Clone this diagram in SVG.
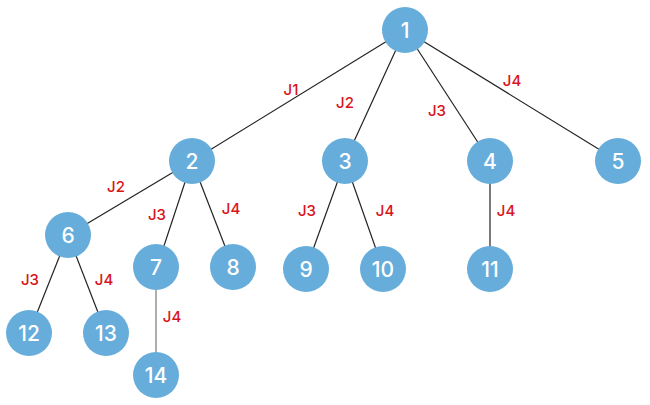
<svg xmlns="http://www.w3.org/2000/svg" width="650" height="405" viewBox="0 0 650 405">
<style>
.e{stroke:#222;stroke-width:1.2;fill:none}
.g{stroke:#777}
.n circle{fill:#66addb}
.n text{fill:#fff;font-family:Inter,"Open Sans","Liberation Sans",sans-serif;font-size:21px;font-weight:500;text-anchor:middle;dominant-baseline:central}
.l{fill:#d7141a;font-family:Inter,"Open Sans","Liberation Sans",sans-serif;font-size:15px;font-weight:500;text-anchor:middle;dominant-baseline:central}
</style>
<rect width="650" height="405" fill="#fff"/>
<g id="connectors">
<line class="e" x1="405" y1="30" x2="192" y2="161"/>
<line class="e" x1="405" y1="30" x2="345" y2="161"/>
<line class="e" x1="405" y1="30" x2="490" y2="161"/>
<line class="e" x1="405" y1="30" x2="618" y2="161"/>
<line class="e" x1="192" y1="161" x2="68" y2="235"/>
<line class="e" x1="192" y1="161" x2="157" y2="267"/>
<line class="e" x1="192" y1="161" x2="233" y2="267"/>
<line class="e" x1="345" y1="161" x2="306" y2="269"/>
<line class="e" x1="345" y1="161" x2="383" y2="269"/>
<line class="e" x1="490" y1="161" x2="490" y2="269"/>
<line class="e" x1="68" y1="235" x2="29" y2="333"/>
<line class="e" x1="68" y1="235" x2="106" y2="333"/>
<line class="e g" x1="156" y1="267" x2="156" y2="375"/>
</g>
<g id="labels">
<text class="l" x="291" y="89">J1</text>
<text class="l" x="345" y="102">J2</text>
<text class="l" x="437" y="110">J3</text>
<text class="l" x="512" y="80">J4</text>
<text class="l" x="116" y="186">J2</text>
<text class="l" x="157" y="214">J3</text>
<text class="l" x="231" y="208">J4</text>
<text class="l" x="307" y="210">J3</text>
<text class="l" x="385" y="210">J4</text>
<text class="l" x="506" y="210">J4</text>
<text class="l" x="30" y="279">J3</text>
<text class="l" x="104" y="279">J4</text>
<text class="l" x="172" y="316">J4</text>
</g>
<g id="n1" class="n"><circle cx="405" cy="30" r="23"/><text x="405" y="30">1</text></g>
<g id="n2" class="n"><circle cx="192" cy="161" r="23"/><text x="192" y="161">2</text></g>
<g id="n3" class="n"><circle cx="345" cy="161" r="23"/><text x="345" y="161">3</text></g>
<g id="n4" class="n"><circle cx="490" cy="161" r="23"/><text x="490" y="161">4</text></g>
<g id="n5" class="n"><circle cx="618" cy="161" r="23"/><text x="618" y="161">5</text></g>
<g id="n6" class="n"><circle cx="68" cy="235" r="23"/><text x="68" y="235">6</text></g>
<g id="n7" class="n"><circle cx="156" cy="267" r="23"/><text x="156" y="267">7</text></g>
<g id="n8" class="n"><circle cx="233" cy="267" r="23"/><text x="233" y="267">8</text></g>
<g id="n9" class="n"><circle cx="306" cy="269" r="23"/><text x="306" y="269">9</text></g>
<g id="n10" class="n"><circle cx="383" cy="269" r="23"/><text x="383" y="269">10</text></g>
<g id="n11" class="n"><circle cx="490" cy="269" r="23"/><text x="490" y="269">11</text></g>
<g id="n12" class="n"><circle cx="29" cy="333" r="23"/><text x="29" y="333">12</text></g>
<g id="n13" class="n"><circle cx="106" cy="333" r="23"/><text x="106" y="333">13</text></g>
<g id="n14" class="n"><circle cx="156" cy="375" r="23"/><text x="156" y="375">14</text></g>
</svg>
